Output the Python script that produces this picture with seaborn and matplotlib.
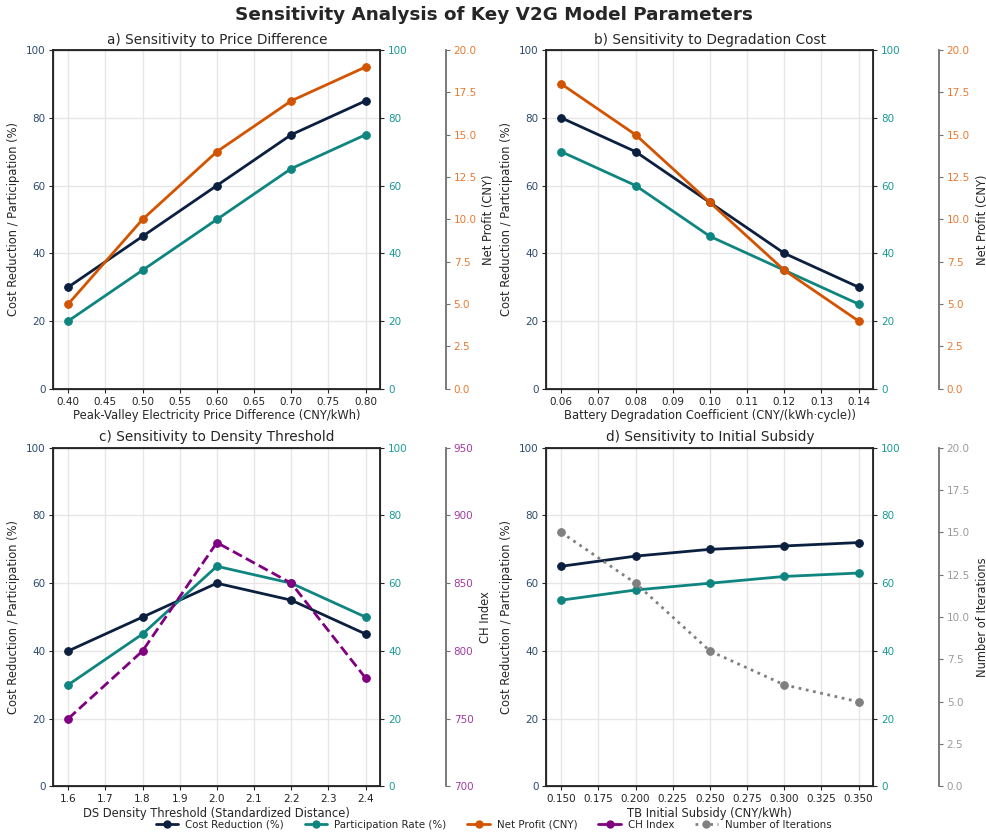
import numpy as np
import pandas as pd
import matplotlib
matplotlib.use("Agg")
import matplotlib.pyplot as plt
from matplotlib.lines import Line2D
import seaborn as sns

sns.set_style("ticks")
plt.rcParams['font.family'] = ['DejaVu Sans']
plt.rcParams['xtick.major.size'] = 2.8
plt.rcParams['ytick.major.size'] = 2.8
plt.rcParams['xtick.major.pad'] = 2.8
plt.rcParams['ytick.major.pad'] = 2.8

# data
price_diff = [0.40, 0.50, 0.60, 0.70, 0.80]
price_cost = [30, 45, 60, 75, 85]
price_part = [20, 35, 50, 65, 75]
price_profit = [5, 10, 14, 17, 19]

degr_coef = [0.06, 0.08, 0.10, 0.12, 0.14]
degr_cost = [80, 70, 55, 40, 30]
degr_part = [70, 60, 45, 35, 25]
degr_profit = [18, 15, 11, 7, 4]

density = [1.6, 1.8, 2.0, 2.2, 2.4]
dens_cost = [40, 50, 60, 55, 45]
dens_part = [30, 45, 65, 60, 50]
dens_ch = [750, 800, 880, 850, 780]

subsidy = [0.150, 0.200, 0.250, 0.300, 0.350]
sub_cost = [65, 68, 70, 71, 72]
sub_part = [55, 58, 60, 62, 63]
sub_iter = [15, 12, 8, 6, 5]

C_COST = '#0b1f3f'
C_PART = '#0f8580'
C_PROFIT = '#d35400'
C_CH = '#800080'
C_ITER = '#808080'
C_LTICK = '#2c4a6e'

TICK_FS = 7.5
LABEL_FS = 8.3

fig, axes = plt.subplots(2, 2, figsize=(9.87, 8.34), dpi=100)
fig.subplots_adjust(left=0.054, right=0.885, top=0.94, bottom=0.057, wspace=0.507, hspace=0.174)


def panel(ax, x, cost, part, third, title, xlabel, t_color, t_label, t_lim, t_style, t_tickcolor):
    sns.lineplot(x=x, y=cost, ax=ax, color=C_COST, marker='o', linewidth=2, markersize=5.5,
                 markeredgecolor=C_COST)
    ax.set_ylim(0, 100)
    ax.set_xticks(np.arange(x[0], x[-1] + 1e-9, (x[1] - x[0]) / 2))
    ax.grid(True, color='#e6e6e6', linewidth=1)
    ax.set_title(title, fontsize=9.8, pad=4.5)
    ax.set_xlabel(xlabel, fontsize=LABEL_FS, labelpad=2)
    ax.set_ylabel('Cost Reduction / Participation (%)', fontsize=LABEL_FS)
    ax.tick_params(axis='y', labelcolor=C_LTICK, labelsize=TICK_FS)
    ax.tick_params(axis='x', labelsize=TICK_FS, labelcolor='#222222')
    for s in ax.spines.values():
        s.set_linewidth(1.3)
        s.set_color('#222222')

    ax2 = ax.twinx()
    sns.lineplot(x=x, y=part, ax=ax2, color=C_PART, marker='o', linewidth=2, markersize=5.5,
                 markeredgecolor=C_PART)
    ax2.set_ylim(0, 100)
    ax2.tick_params(axis='y', labelcolor='#1a9a96', labelsize=TICK_FS)
    ax2.set_ylabel('')

    ax3 = ax.twinx()
    ax3.spines['right'].set_position(('axes', 1.2))
    ax3.spines['right'].set_color('#707070')
    ax3.spines['right'].set_linewidth(1.3)
    sns.lineplot(x=x, y=third, ax=ax3, color=t_color, marker='o', linewidth=2, markersize=5.5,
                 markeredgecolor=t_color, linestyle=t_style)
    ax3.set_ylim(*t_lim)
    ax3.tick_params(axis='y', labelcolor=t_tickcolor, labelsize=TICK_FS, color='#707070')
    ax3.set_ylabel(t_label, fontsize=LABEL_FS)
    return ax3


panel(axes[0, 0], price_diff, price_cost, price_part, price_profit,
      'a) Sensitivity to Price Difference', 'Peak-Valley Electricity Price Difference (CNY/kWh)',
      C_PROFIT, 'Net Profit (CNY)', (0, 20), '-', '#e8792f')
panel(axes[0, 1], degr_coef, degr_cost, degr_part, degr_profit,
      'b) Sensitivity to Degradation Cost', 'Battery Degradation Coefficient (CNY/(kWh·cycle))',
      C_PROFIT, 'Net Profit (CNY)', (0, 20), '-', '#e8792f')
panel(axes[1, 0], density, dens_cost, dens_part, dens_ch,
      'c) Sensitivity to Density Threshold', 'DS Density Threshold (Standardized Distance)',
      C_CH, 'CH Index', (700, 950), '--', '#a23aa2')
panel(axes[1, 1], subsidy, sub_cost, sub_part, sub_iter,
      'd) Sensitivity to Initial Subsidy', 'TB Initial Subsidy (CNY/kWh)',
      C_ITER, 'Number of Iterations', (0, 20), ':', '#9a9a9a')

axes[0, 0].xaxis.set_major_formatter(plt.FormatStrFormatter('%.2f'))
axes[0, 1].xaxis.set_major_formatter(plt.FormatStrFormatter('%.2f'))
axes[1, 0].xaxis.set_major_formatter(plt.FormatStrFormatter('%.1f'))
axes[1, 1].xaxis.set_major_formatter(plt.FormatStrFormatter('%.3f'))

handles = [
    Line2D([], [], color=C_COST, marker='o', linewidth=2, markersize=5),
    Line2D([], [], color=C_PART, marker='o', linewidth=2, markersize=5),
    Line2D([], [], color=C_PROFIT, marker='o', linewidth=2, markersize=5),
    Line2D([], [], color=C_CH, marker='o', linewidth=2, markersize=5),
    Line2D([], [], color=C_ITER, marker='o', linewidth=2, markersize=5, linestyle=':'),
]
labels = ['Cost Reduction (%)', 'Participation Rate (%)', 'Net Profit (CNY)', 'CH Index',
          'Number of Iterations']
fig.legend(handles, labels, loc='center', bbox_to_anchor=(0.5, 0.011), ncol=5,
           frameon=False, fontsize=7.4, columnspacing=2.0, handlelength=2.2,
           handletextpad=0.7, borderpad=0)

fig.suptitle('Sensitivity Analysis of Key V2G Model Parameters', fontsize=13.2, fontweight='bold', y=0.993)

fig.savefig('out.png', dpi=100)
